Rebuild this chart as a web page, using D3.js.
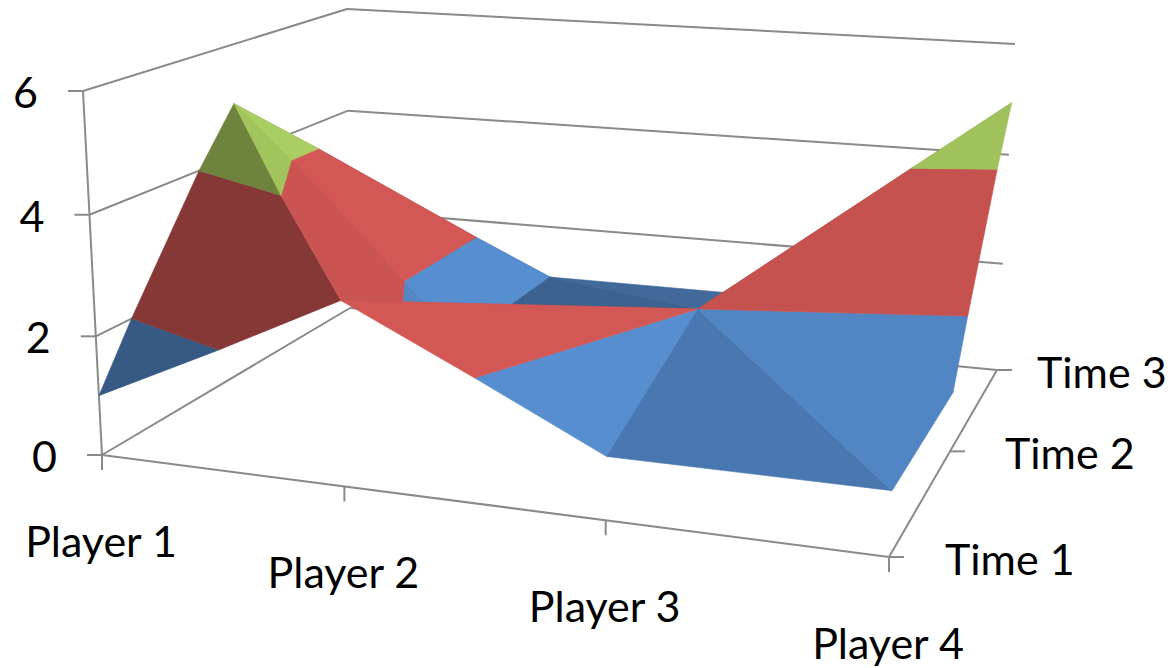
<!DOCTYPE html>
<html>
<head>
<meta charset="utf-8">
<script src="https://cdn.jsdelivr.net/npm/d3@7"></script>
<style>
  html, body { margin: 0; background: #fff; }
  svg { display: block; }
  text { font-family: "Lato", "Open Sans", sans-serif; fill: #000; }
</style>
</head>
<body>
<svg id="chart" width="1171" height="668"></svg>
<script>
// Surface chart: score per player over three time periods.
const players = ["Player 1", "Player 2", "Player 3", "Player 4"];
const times = ["Time 1", "Time 2", "Time 3"];
const valueTicks = [0, 2, 4, 6];

const time1 = [1, 3, 1, 1];
const time2 = [5, 1, 2, 1];
const time3 = [1, 1, 1, 5];
const series = [time1, time2, time3];

// Colour bands of the surface, one per value interval.
const bandEdges = [0, 2, 4, 6];
const bandColors = ["#4f81bd", "#c0504d", "#9bbb59"];

// Surface facets as [[player, time] x 3, brightness], painted back to front.
const facets = [
  [[0, 1], [0, 2], [1, 2], 0.90],
  [[0, 1], [1, 1], [1, 2], 1.10],
  [[1, 2], [2, 2], [2, 1], 0.82],
  [[1, 1], [1, 2], [2, 1], 0.76],
  [[2, 1], [2, 2], [3, 2], 0.90],
  [[2, 1], [3, 1], [3, 2], 1.03],
  [[0, 0], [0, 1], [1, 0], 0.70],
  [[0, 1], [1, 0], [1, 1], 1.05],
  [[1, 0], [1, 1], [2, 1], 1.00],
  [[1, 0], [2, 0], [2, 1], 1.10],
  [[2, 0], [3, 0], [2, 1], 0.93],
  [[3, 0], [3, 1], [2, 1], 1.03]
];

// Viewing box: screen position of its eight corners, keyed by
// width (L/R), depth (F/B) and height (0/1).
const box = {
  LF0: [102, 455], LF1: [83, 91],
  LB0: [350, 308], LB1: [347, 9],
  RF0: [889, 557], RF1: [908, 150],
  RB0: [997, 370], RB1: [1015, 44]
};

// Foreshortening of each axis is carried by its scale.
const playerScale = d3.scaleLinear().domain([0, 1, 2, 3]).range([0, 0.308, 0.64, 1]);
const timeScale = d3.scaleLinear().domain([0, 1, 2]).range([0, 0.565, 1]);
const valueScale = d3.scaleLinear().domain([0, 2, 4, 5, 6]).range([0, 0.326, 0.66, 0.82, 1]);

function project(p, t, v) {
  const a = playerScale(p), b = timeScale(t), c = valueScale(v);
  const mix = (k) => d3.interpolateNumber(
    d3.interpolateNumber(
      d3.interpolateNumber(box.LF0[k], box.LF1[k])(c),
      d3.interpolateNumber(box.LB0[k], box.LB1[k])(c))(b),
    d3.interpolateNumber(
      d3.interpolateNumber(box.RF0[k], box.RF1[k])(c),
      d3.interpolateNumber(box.RB0[k], box.RB1[k])(c))(b))(a);
  return [mix(0), mix(1)];
}

const svg = d3.select("#chart");
const line = d3.line();
const closedLine = d3.line().curve(d3.curveLinearClosed);
const AXIS = "#8a8a8a";

function segment(g, a, b) {
  g.append("path").attr("d", line([a, b]))
    .attr("fill", "none").attr("stroke", AXIS).attr("stroke-width", 2);
}

// Walls, floor edges and tick marks.
const frame = svg.append("g");
valueTicks.forEach((v) => {
  const corner = project(0, 2, v);
  const front = project(0, 0, v);
  segment(frame, front, corner);
  segment(frame, corner, project(3, 2, v));
  segment(frame, [front[0] - 15, front[1]], front);
});
segment(frame, project(0, 0, 0), project(0, 0, 6));
segment(frame, project(0, 0, 0), project(3, 0, 0));
segment(frame, project(3, 0, 0), project(3, 2, 0));
players.forEach((_, i) => {
  const p = project(i, 0, 0);
  segment(frame, p, [p[0], p[1] + 15]);
});
times.forEach((_, j) => {
  const p = project(3, j, 0);
  segment(frame, p, [p[0] + 15, p[1]]);
});

// Keep only the part of a facet lying between two values.
function clip(poly, keep, level) {
  const out = [];
  poly.forEach((cur, i) => {
    const prev = poly[(i + poly.length - 1) % poly.length];
    const inCur = keep(cur[2]), inPrev = keep(prev[2]);
    if (inCur !== inPrev) {
      const k = (level - prev[2]) / (cur[2] - prev[2]);
      out.push([prev[0] + k * (cur[0] - prev[0]), prev[1] + k * (cur[1] - prev[1]), level]);
    }
    if (inCur) out.push(cur);
  });
  return out;
}

const surface = svg.append("g");
facets.forEach(([a, b, c, shade]) => {
  const tri = [a, b, c].map(([p, t]) => [p, t, series[t][p]]);
  bandColors.forEach((color, k) => {
    const lo = bandEdges[k], hi = bandEdges[k + 1];
    let poly = clip(tri, (v) => v >= lo, lo);
    if (poly.length) poly = clip(poly, (v) => v <= hi, hi);
    if (poly.length < 3) return;
    const base = d3.rgb(color);
    const fill = d3.rgb(
      Math.min(255, base.r * shade),
      Math.min(255, base.g * shade),
      Math.min(255, base.b * shade)).formatHex();
    surface.append("path")
      .attr("d", closedLine(poly.map((q) => project(q[0], q[1], q[2]))))
      .attr("fill", fill).attr("stroke", fill).attr("stroke-width", 0.6);
  });
});

// Axis labels.
const FONT = 43;
const labels = svg.append("g").attr("font-size", FONT);
valueTicks.forEach((v) => {
  const p = project(0, 0, v);
  labels.append("text").attr("x", p[0] - 45).attr("y", p[1] + 17)
    .attr("text-anchor", "end").text(v);
});
players.forEach((name, i) => {
  const p = project(i, 0, 0);
  labels.append("text").attr("x", p[0] - 1).attr("y", p[1] + 102)
    .attr("text-anchor", "middle").text(name);
});
const timeLabelOffset = [56, 55, 40];
times.forEach((name, j) => {
  const p = project(3, j, 0);
  labels.append("text").attr("x", p[0] + timeLabelOffset[j]).attr("y", p[1] + 18).text(name);
});
</script>
</body>
</html>
